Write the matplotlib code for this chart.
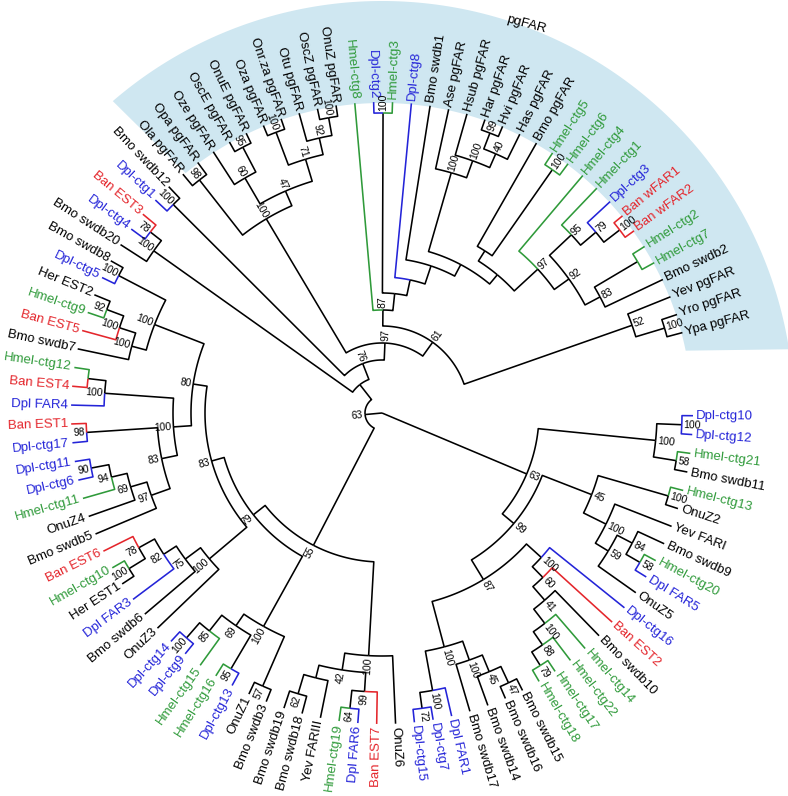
import numpy as np
import matplotlib
matplotlib.use("Agg")
import matplotlib.pyplot as plt
from matplotlib.patches import Polygon

plt.rcParams['font.family'] = ['Liberation Sans', 'DejaVu Sans']

# ----------------------------
# TREE DATA  (name / bootstrap:radius from centre in px)
# ----------------------------
CLADE_B = "(OnuZ6,((Ban EST7,(Dpl FAR6,Hmel-ctg19)64:297)99:279,(Yev FARIII,(Bmo swdb18,Bmo swdb19)62:293):273)42:260)100:243"
CLADE_D100 = "((Bmo swdb3,OnuZ1)57:298,((Dpl-ctg13,Hmel-ctg16)95:297,(Hmel-ctg15,(Dpl-ctg9,Dpl-ctg14)100:298)85:278)69:258)100:244"
CLADE_B100 = "(OnuZ3,(Bmo swdb6,(Dpl FAR3,((Her EST1,Hmel-ctg10)100:297,Ban EST6)78:278)82:260)75:245)100:226"
CLADE_A83 = "((Bmo swdb5,(OnuZ4,(Hmel-ctg11,(Dpl-ctg6,Dpl-ctg11)90:296)94:278)69:262)97:245,(Dpl-ctg17,Ban EST1)98:296)83:225"
CLADE_FAR4 = "(Dpl FAR4,(Ban EST4,Hmel-ctg12):296)100:278"
CLADE_UP100 = "((Bmo swdb7,(Ban EST5,(Hmel-ctg9,Her EST2)92:294)100:276)100:259,(Dpl-ctg5,Bmo swdb8)100:297)100:244"
CLADE_SW20 = "(Bmo swdb20,(Dpl-ctg4,Ban EST3)78:294)100:280"
CLADE_CTG1 = "(Dpl-ctg1,Bmo swdb12)100:295"
CLADE_PGL = ("((Ola pgFAR,Opa pgFAR)98:296,((Oze pgFAR,(OscE pgFAR,OnuE pgFAR)95:300)60:272,"
             "((Oza pgFAR,Onr.za pgFAR)100:300,(Otu pgFAR,(OscZ pgFAR,OnuZ pgFAR)100:300)92:282)71:265)47:242)100:226")
CLADE_HAS = "(Ase pgFAR,(Hsub pgFAR,((Har pgFAR,Hvi pgFAR)99:300,Has pgFAR)40:283)100:268)100:250"
CLADE_D95 = "(Hmel-ctg1,(Dpl-ctg3,(Ban wFAR1,Ban wFAR2)100:300)79:280)95:260"
CLADE_F83 = "((Hmel-ctg2,Hmel-ctg7):297,Bmo swdb2)83:247"
CLADE_YPG = "(Yev pgFAR,(Yro pgFAR,Ypa pgFAR)100:295)52:265"
CLADE_R1 = "((Dpl-ctg10,Dpl-ctg12)100:300,(Hmel-ctg21,Bmo swdb11)58:298)100:275"
CLADE_R7 = "((Hmel-ctg13,OnuZ2)100:298,(Yev FARI,((Bmo swdb9,(Hmel-ctg20,Dpl FAR5)58:298)84:282,OnuZ5)59:265)100:250)45:225"
CLADE_S100 = ("(Dpl-ctg16,(Ban EST2,(Bmo swdb10,(Hmel-ctg14,(Hmel-ctg22,(Hmel-ctg17,Hmel-ctg18)79:298)88:282)100:266)41:248)60:230)100:215")
CLADE_T5 = ("((((Bmo swdb15,Bmo swdb16)47:298,Bmo swdb14)45:280,Bmo swdb17)100:262,"
            "(Dpl FAR1,(Dpl-ctg7,Dpl-ctg15)72:298)100:282)100:242")

# assemble the backbone
PG_P = (f"(Hmel-ctg8,((Dpl-ctg2,Hmel-ctg3)100:300,(Dpl-ctg8,(Bmo swdb1,({CLADE_HAS},"
        f"((Bmo pgFAR,(Hmel-ctg5,Hmel-ctg6)100:297):192,(Hmel-ctg4,({CLADE_D95},{CLADE_F83})92:230)97:212):180)"
        f":168):155):136):120)87:103")
N97 = f"({CLADE_PGL},({PG_P},{CLADE_YPG})61:87)97:70"
UPPER = f"({CLADE_SW20},({CLADE_CTG1},{N97})76:53):36"
N55 = (f"({CLADE_B},({CLADE_D100},({CLADE_B100},(({CLADE_A83},{CLADE_FAR4})100:209,"
       f"{CLADE_UP100})80:191)83:177)79:164)55:149")
RIGHT = f"({CLADE_R1},({CLADE_R7},({CLADE_S100},{CLADE_T5})87:195)99:172)63:157"
TREE = f"(({N55},{UPPER})63:17,{RIGHT}):0"

GROUP_COLORS = {"Dpl": "#2424d8", "Ban": "#e4262c", "Hmel": "#2f9a3a"}
WEDGE_COLOR = "#cfe7f1"

# layout
CX, CY = 382, 413
R_TIP = 311
START_ANGLE = 272.5
STEP = 3.48
GAP_AFTER = 74
GAP = 12.0


# ----------------------------
# NEWICK PARSER
# ----------------------------
def parse(s):
    pos = 0

    def node():
        nonlocal pos
        if s[pos] == '(':
            pos += 1
            kids = [node()]
            while s[pos] == ',':
                pos += 1
                kids.append(node())
            pos += 1  # ')'
            start = pos
            while pos < len(s) and s[pos] not in ',):':
                pos += 1
            label = s[start:pos].strip()
            r = None
            if pos < len(s) and s[pos] == ':':
                pos += 1
                start = pos
                while pos < len(s) and s[pos] not in ',)':
                    pos += 1
                r = float(s[start:pos])
            return {"kids": kids, "label": label, "r": r}
        start = pos
        while s[pos] not in ',)':
            pos += 1
        return {"name": s[start:pos].strip(), "r": R_TIP}

    return node()


def leaf_color(name):
    return GROUP_COLORS.get(name.split("-")[0].split(" ")[0], "black")


root = parse(TREE)

counter = [0]


def assign(n):
    if "name" in n:
        i = counter[0]
        counter[0] += 1
        a = START_ANGLE - STEP * i
        if i > GAP_AFTER:
            a -= GAP
        n["a"] = a
    else:
        for k in n["kids"]:
            assign(k)
        n["a"] = (n["kids"][0]["a"] + n["kids"][-1]["a"]) / 2


assign(root)


def pt(r, a):
    t = np.radians(a)
    return CX + r * np.cos(t), CY - r * np.sin(t)


# ----------------------------
# DRAW
# ----------------------------
fig = plt.figure(figsize=(7.88, 7.96), dpi=100)
ax = fig.add_axes([0, 0, 1, 1])
ax.set_xlim(0, 788)
ax.set_ylim(796, 0)
ax.axis("off")

# pgFAR shaded band
outer = [pt(412, a) for a in np.linspace(8.9, 130.8, 200)]
inner = [pt(310, a) for a in np.linspace(129.3, 11.6, 200)]
ax.add_patch(Polygon(outer + inner, closed=True, facecolor=WEDGE_COLOR, edgecolor="none", zorder=0))
x, y = pt(415, 69.6)
ax.text(x, y, "pgFAR", rotation=-15, ha="center", va="center", fontsize=9.5, color="black")


def put_text(r, a, s, size, color):
    a = (a + 90) % 360 - 90
    x, y = pt(r, a)
    if a <= 90:
        ax.text(x, y, s, rotation=a, ha="left", va="center", rotation_mode="anchor",
                fontsize=size, color=color, zorder=4)
    else:
        ax.text(x, y, s, rotation=a - 180, ha="right", va="center", rotation_mode="anchor",
                fontsize=size, color=color, zorder=4)


def draw(n):
    if "name" in n:
        put_text(R_TIP + 3, n["a"], n["name"], 9.5, leaf_color(n["name"]))
        return
    for k in n["kids"]:
        col = leaf_color(k["name"]) if "name" in k else "black"
        a1, a2 = n["a"], k["a"]
        m = max(2, int(abs(a2 - a1) / 0.5) + 2)
        xs, ys = [], []
        for a in np.linspace(a1, a2, m):
            px, py = pt(n["r"], a)
            xs.append(px)
            ys.append(py)
        px, py = pt(k["r"], a2)
        xs.append(px)
        ys.append(py)
        ax.plot(xs, ys, color=col, lw=1.15, solid_capstyle="butt", zorder=2)
        draw(k)
    if n["label"]:
        put_text(n["r"] + 2, n["a"], n["label"], 7.5, "black")


draw(root)

fig.savefig("out.png", dpi=100)
